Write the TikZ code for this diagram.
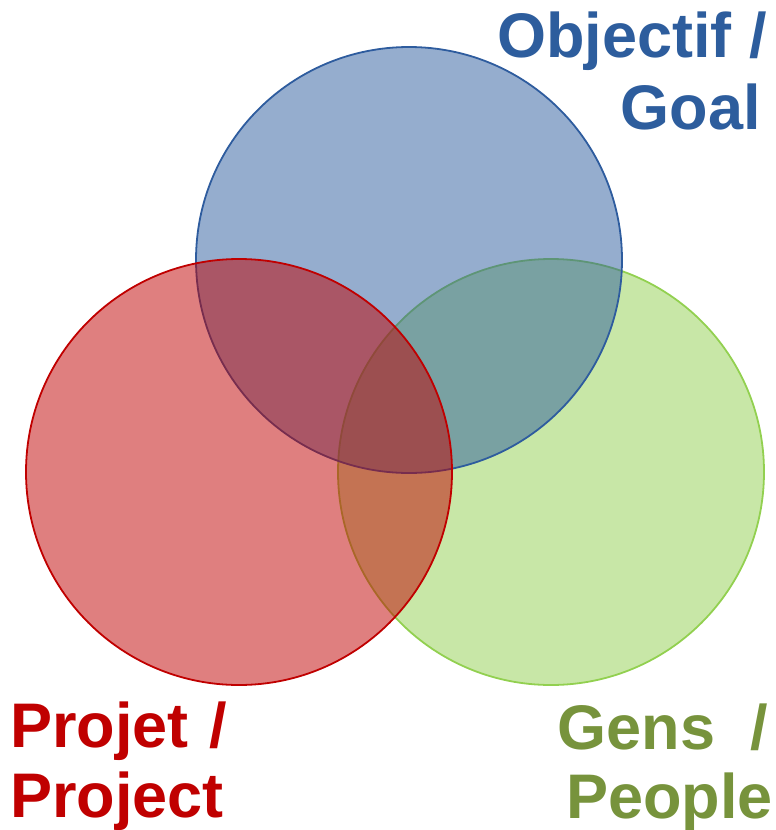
\documentclass[tikz,border=0pt]{standalone}
\usepackage{fontspec}
\setmainfont{Liberation Sans}
\definecolor{bluefill}{RGB}{43,91,157}
\definecolor{bluestroke}{RGB}{46,92,158}
\definecolor{bluetext}{RGB}{45,93,157}
\definecolor{redc}{RGB}{192,0,0}
\definecolor{greenc}{RGB}{146,208,80}
\definecolor{greentext}{RGB}{119,147,60}
\tikzset{
  venn/.style={circle, minimum size=426pt, inner sep=0pt, line width=1.8pt, fill opacity=0.5, draw opacity=1},
  lbl/.style={font=\fontsize{63}{63}\selectfont\bfseries, inner sep=0pt}
}
\begin{document}
\begin{tikzpicture}[x=1pt,y=-1pt]
\useasboundingbox (0,0) rectangle (776,830);
\node[venn, draw=greenc, fill=greenc] (people) at (551,472) {};
\node[venn, draw=bluestroke, fill=bluefill] (goal) at (409,260) {};
\node[venn, draw=redc, fill=redc] (project) at (239,472) {};
\node[lbl, text=bluetext, anchor=base east] (goal1) at (767,57) {Objectif /};
\node[lbl, text=bluetext, anchor=base east] (goal2) at (761,129) {Goal};
\node[lbl, text=redc, anchor=base west] (proj1) at (10,747) {Projet\hspace{3pt} /};
\node[lbl, text=redc, anchor=base west] (proj2) at (10,817) {Project};
\node[lbl, text=greentext, anchor=base east] (ppl1) at (768,749) {Gens\ \ /};
\node[lbl, text=greentext, anchor=base east] (ppl2) at (773,818) {People};
\end{tikzpicture}
\end{document}
